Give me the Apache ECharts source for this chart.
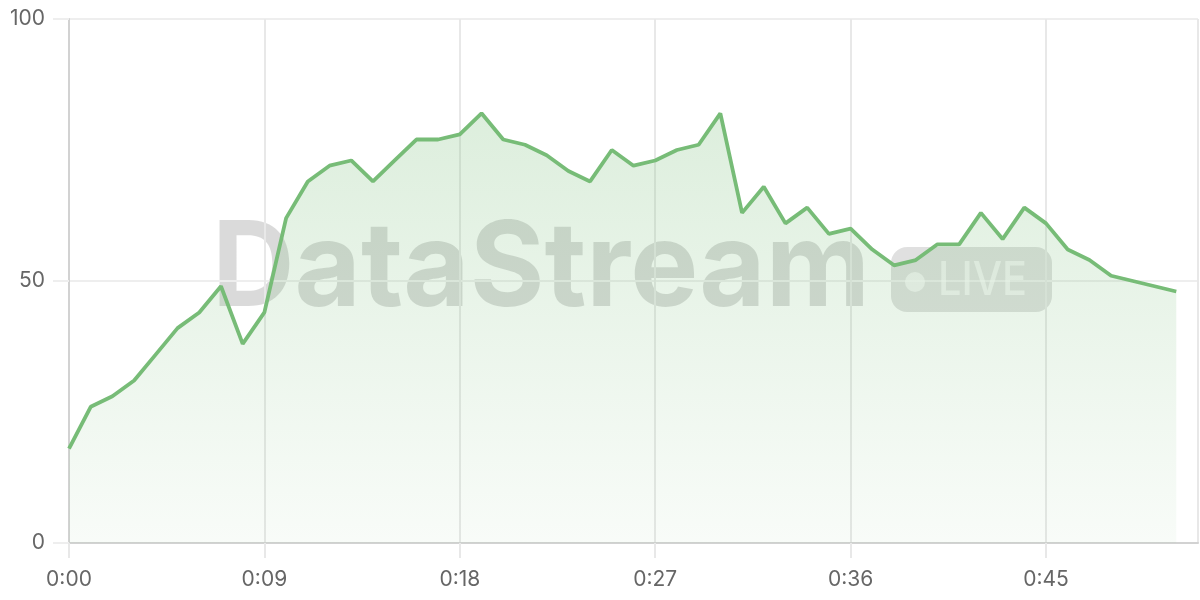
<!DOCTYPE html>
<html>
<head>
<meta charset="utf-8">
<script src="https://cdn.jsdelivr.net/npm/echarts@6/dist/echarts.min.js"></script>
<style>
html,body{margin:0;padding:0;background:#fff;}
#chart{width:1200px;height:600px;}
</style>
</head>
<body>
<div id="chart"></div>
<script>
// seconds since start
var times = [0,1,2,3,4,5,6,7,8,9,10,11,12,13,14,15,16,17,18,19,20,21,22,23,24,25,26,27,28,29,30,31,32,33,34,35,36,37,38,39,40,41,42,43,44,45,46,47,48,49,50,51];
var values = [18,26,28,31,36,41,44,49,38,44,62,69,72,73,69,73,77,77,78,82,77,76,74,71,69,75,72,73,75,76,82,63,68,61,64,59,60,56,53,54,57,57,63,58,64,61,56,54,51,50,49,48];
var yTicks = [0,50,100];
var watermarkText = 'DataStream';
var badgeText = 'LIVE';

var FONT = 'Inter, "Noto Sans", sans-serif';
var chart = echarts.init(document.getElementById('chart'), null, {renderer:'canvas'});

function fmt(v){
  var m = Math.floor(v/60), s = v % 60;
  return m + ':' + (s < 10 ? '0' + s : s);
}
function measure(text, font){
  var c = document.createElement('canvas').getContext('2d');
  c.font = font;
  return c.measureText(text).width;
}
var wmFont = 'bold 118px ' + FONT;
var wmScale = 658 / measure(watermarkText, wmFont);
var lvFont = '500 47px ' + FONT;
var lvScale = 89 / measure(badgeText, lvFont);

var option = {
  animation: false,
  backgroundColor: '#ffffff',
  grid: {left: 69, right: 2, top: 19, bottom: 57, containLabel: false},
  graphic: [
    {type:'text', z:0, x: 212, y: 271, scaleX: wmScale,
     style:{text: watermarkText, font: wmFont, fill: 'rgba(0,0,0,0.145)', align:'left', verticalAlign:'middle'}},
    {type:'rect', z:0, x: 891, y: 247,
     shape:{x:0, y:0, width:161, height:65, r:16}, style:{fill:'rgba(0,0,0,0.12)'}},
    {type:'circle', z:1, x: 915, y: 282,
     shape:{cx:0, cy:0, r:10}, style:{fill:'rgba(255,255,255,0.6)'}},
    {type:'text', z:1, x: 938, y: 281, scaleX: lvScale,
     style:{text: badgeText, font: lvFont, fill:'rgba(255,255,255,0.6)', align:'left', verticalAlign:'middle'}}
  ],
  xAxis: {
    type: 'value', min: 0, max: 52, interval: 9,
    axisLine: {show:true, lineStyle:{color:'#d2d2d2', width:2}},
    axisTick: {show:true, length:15, lineStyle:{color:'#e8e8e8', width:2}},
    splitLine: {show:true, lineStyle:{color:'#e8e8e8', width:2}},
    axisLabel: {formatter: fmt, color:'#666', fontSize: 21, fontFamily: FONT, margin: 26,
      showMaxLabel:false}
  },
  yAxis: {
    type: 'value', min: yTicks[0], max: yTicks[yTicks.length-1], interval: 50,
    axisLine: {show:true, lineStyle:{color:'#d2d2d2', width:2}},
    axisTick: {show:true, length:16, lineStyle:{color:'#eeeeee', width:2}},
    splitLine: {show:true, lineStyle:{color:'#eeeeee', width:2}},
    axisLabel: {color:'#666', fontSize: 21, fontFamily: FONT, margin: 24}
  },
  series: [{
    type: 'line', z: 5,
    data: times.map(function(t,i){ return [t, values[i]]; }),
    showSymbol: false, symbol: 'none',
    lineStyle: {color:'#77bc77', width:3.8},
    itemStyle: {color:'#77bc77'},
    areaStyle: {color: new echarts.graphic.LinearGradient(0,0,0,1,[
      {offset:0, color:'rgba(120,189,120,0.36)'},
      {offset:1, color:'rgba(120,189,120,0.07)'}
    ]), origin:'start'}
  }]
};
chart.setOption(option);
</script>
</body>
</html>
